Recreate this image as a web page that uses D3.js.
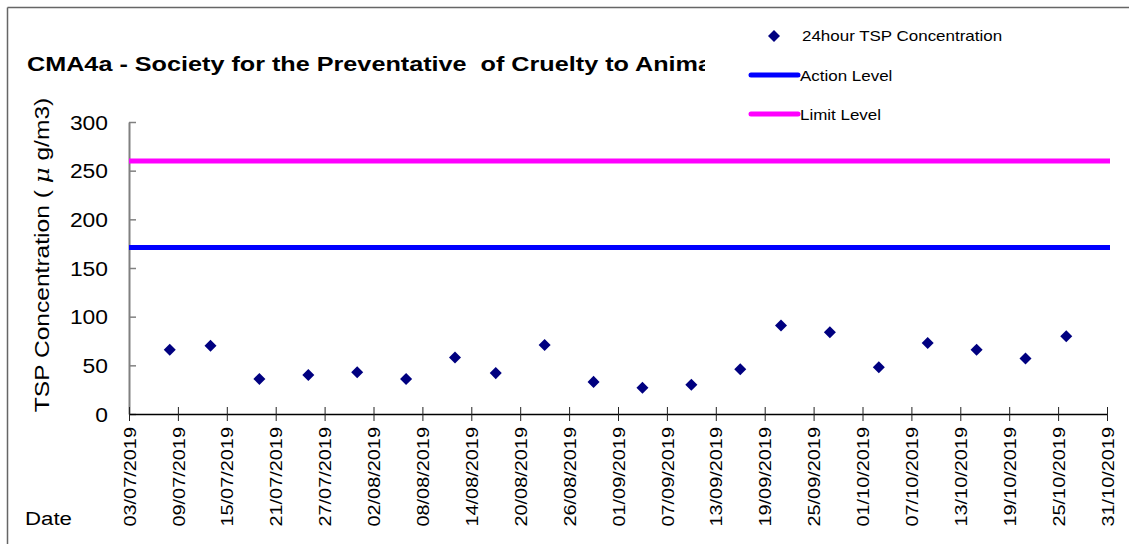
<!DOCTYPE html>
<html>
<head>
<meta charset="utf-8">
<script src="https://cdn.jsdelivr.net/npm/d3@7"></script>
<style>
  body { margin: 0; background: #fff; }
  text { font-family: Arial, "Liberation Sans", sans-serif; fill: #000; }
</style>
</head>
<body>
<div id="chart"></div>
<script>
(function(){
    // sampling dates + 24hr TSP readings (ug/m3)
    var sampleDates = ["2019-07-08", "2019-07-13", "2019-07-19", "2019-07-25", "2019-07-31",
        "2019-08-06", "2019-08-12", "2019-08-17", "2019-08-23", "2019-08-29",
        "2019-09-04", "2019-09-10", "2019-09-16", "2019-09-21", "2019-09-27",
        "2019-10-03", "2019-10-09", "2019-10-15", "2019-10-21", "2019-10-26"];
    var tspValues = [66, 70, 36, 40, 43, 36, 58, 42, 71, 33, 27, 30, 46, 91, 84, 48, 73, 66, 57, 80];

    var actionLevel = 171, limitLevel = 260;
    var yTicks = [0, 50, 100, 150, 200, 250, 300];
    var dateStart = "2019-07-03", dateEnd = "2019-10-31", tickStepDays = 6;

    var legendItems = ["24hour TSP Concentration", "Action Level", "Limit Level"];
    var titleText = "CMA4a - Society for the Preventative  of Cruelty to Animals";

    var W = 1129, H = 544;
    var SX = 1.17; // text in the source looks horizontally stretched

    var parse = d3.timeParse("%Y-%m-%d"),
        fmt = d3.timeFormat("%d/%m/%Y");

    var data = sampleDates.map(function(d, i) { return { date: parse(d), value: tspValues[i] }; });

    var svg = d3.select("#chart").append("svg")
        .attr("width", W)
        .attr("height", H);

    // outer frame (only top + left visible in the source)
    svg.append("line").attr("x1", 7.5).attr("y1", 7.5).attr("x2", W).attr("y2", 7.5)
        .style("stroke", "#666").style("stroke-width", 1.5);
    svg.append("line").attr("x1", 7.5).attr("y1", 7.5).attr("x2", 7.5).attr("y2", H)
        .style("stroke", "#666").style("stroke-width", 1.5);

    var x = d3.scaleTime().domain([parse(dateStart), parse(dateEnd)]).range([129, 1107]);
    var y = d3.scaleLinear().domain([0, 300]).range([414, 122]);

    var xTicks = d3.timeDay.range(parse(dateStart), d3.timeDay.offset(parse(dateEnd), 1), tickStepDays);

    function stretchText(sel, tx, ty, rot, sx) {
        sel.attr("x", 0).attr("y", 0)
            .attr("transform", "translate(" + tx + "," + ty + ")" + (rot ? " rotate(" + rot + ")" : "") + " scale(" + (sx || SX) + ",1)");
    }

    // title
    svg.append("text")
        .text(titleText)
        .style("font-size", "21px")
        .style("font-weight", "bold")
        .style("white-space", "pre")
        .call(stretchText, 27, 71, 0, 1.2);

    // y axis
    var yAxis = svg.append("g")
        .attr("transform", "translate(" + x.range()[0] + ",0)")
        .call(d3.axisLeft(y).tickValues(yTicks).tickSize(-7).tickSizeOuter(0));
    yAxis.select(".domain").style("stroke", "#808080").style("stroke-width", 2);
    yAxis.selectAll(".tick line").style("stroke", "#808080").style("stroke-width", 1.5);
    yAxis.selectAll(".tick text")
        .style("font-size", "19.5px")
        .style("font-family", "Arial, 'Liberation Sans', sans-serif")
        .attr("dy", "0.36em")
        .call(stretchText, -21, 0);

    // x axis
    var xAxis = svg.append("g")
        .attr("transform", "translate(0," + y(0) + ")")
        .call(d3.axisBottom(x).tickValues(xTicks).tickFormat(fmt).tickSize(7).tickSizeOuter(0));
    xAxis.select(".domain").style("stroke", "#000").style("stroke-width", 1.5);
    xAxis.selectAll(".tick line").attr("y1", -7).style("stroke", "#222").style("stroke-width", 1);
    xAxis.selectAll(".tick text")
        .style("font-size", "17px")
        .style("font-family", "Arial, 'Liberation Sans', sans-serif")
        .attr("text-anchor", "end")
        .attr("dy", "0.36em")
        .call(stretchText, 0, 13, -90);

    // axis titles
    svg.append("text")
        .attr("text-anchor", "middle")
        .style("font-size", "21px")
        .call(stretchText, 49, 255, -90)
        .html("TSP Concentration ( <tspan style='font-family:\"DejaVu Serif\", serif;font-style:italic'>\u03bc</tspan> g/m3)");

    svg.append("text")
        .text("Date")
        .style("font-size", "19px")
        .call(stretchText, 25, 525);

    // action / limit level lines
    var levels = [{ v: actionLevel, c: "#0000ff" }, { v: limitLevel, c: "#ff00ff" }];
    svg.selectAll(".level")
        .data(levels)
        .enter().append("line")
        .attr("class", "level")
        .attr("x1", x.range()[0])
        .attr("x2", 1110)
        .attr("y1", function(d) { return y(d.v); })
        .attr("y2", function(d) { return y(d.v); })
        .style("stroke", function(d) { return d.c; })
        .style("stroke-width", 5);

    // TSP points
    var diamond = d3.symbol().type(d3.symbolDiamond2).size(92);
    svg.selectAll(".pt")
        .data(data)
        .enter().append("path")
        .attr("class", "pt")
        .attr("d", diamond)
        .attr("transform", function(d) { return "translate(" + x(d.date) + "," + y(d.value) + ")"; })
        .style("fill", "#000080");

    // legend (white box hides end of title like the source)
    var lg = svg.append("g");
    lg.append("rect")
        .attr("x", 705).attr("y", 9)
        .attr("width", W - 705).attr("height", 125)
        .style("fill", "#fff");

    lg.append("path")
        .attr("d", diamond)
        .attr("transform", "translate(774,36)")
        .style("fill", "#000080");
    lg.append("line").attr("x1", 751).attr("x2", 798).attr("y1", 75).attr("y2", 75)
        .style("stroke", "#0000ff").style("stroke-width", 5).style("stroke-linecap", "round");
    lg.append("line").attr("x1", 751).attr("x2", 798).attr("y1", 114).attr("y2", 114)
        .style("stroke", "#ff00ff").style("stroke-width", 5).style("stroke-linecap", "round");

    lg.selectAll(".lgtext")
        .data(legendItems)
        .enter().append("text")
        .attr("class", "lgtext")
        .text(function(d) { return d; })
        .style("font-size", "14.5px")
        .each(function(d, i) {
            d3.select(this).call(stretchText, i == 0 ? 802 : 800, 41 + i * 39.5);
        });
})();
</script>
</body>
</html>
